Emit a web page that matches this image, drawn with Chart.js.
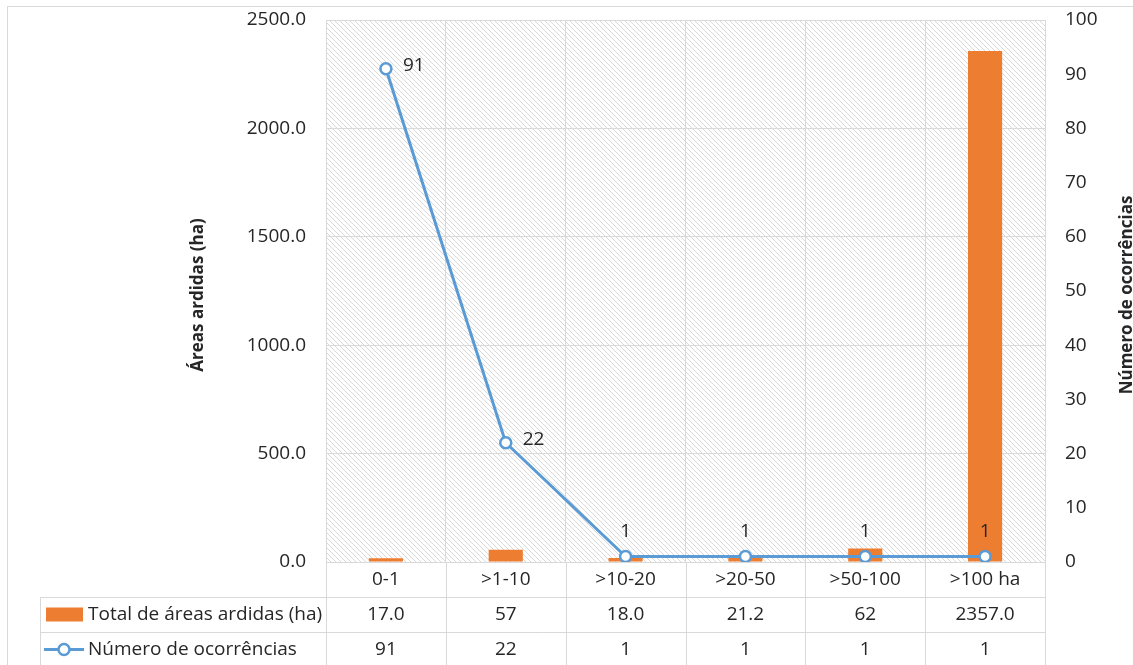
<!DOCTYPE html>
<html>
<head>
<meta charset="utf-8">
<script src="https://cdn.jsdelivr.net/npm/chart.js@4.4.1/dist/chart.umd.min.js"></script>
<style>
html,body{margin:0;padding:0;background:#fff;}
#wrap{width:1133px;height:665px;}
</style>
</head>
<body>
<div id="wrap"><canvas id="fogosChart" width="1133" height="665"></canvas></div>
<script>
// dados
const classes = ['0-1','>1-10','>10-20','>20-50','>50-100','>100 ha'];
const areaArdida = [17.0,57,18.0,21.2,62,2357.0];
const areaTexto = ['17.0','57','18.0','21.2','62','2357.0'];
const ocorrencias = [91,22,1,1,1,1];
const nomeArea = 'Total de áreas ardidas (ha)';
const nomeOcorr = 'Número de ocorrências';
const tituloEsq = 'Áreas ardidas (ha)';
const tituloDir = 'Número de ocorrências';

const laranja = '#ED7D31';
const azul = '#5B9BD5';
const cinza = '#d9d9d9';
const corTexto = '#262626';
const fonte = "'Open Sans', sans-serif";
const tam = 19;
const rowH = 35;

Chart.defaults.font.family = fonte;
Chart.defaults.font.size = tam;
Chart.defaults.color = corTexto;

// fundo tracejado + moldura
const fundo = {
  id:'fundo',
  beforeDraw(chart){
    const {ctx, chartArea:a} = chart;
    ctx.save();
    ctx.strokeStyle = cinza;
    ctx.lineWidth = 1;
    ctx.strokeRect(7.5, 6.5, chart.width, chart.height);
    ctx.beginPath();
    ctx.rect(a.left, a.top, a.right-a.left, a.bottom-a.top);
    ctx.clip();
    ctx.strokeStyle = '#d8d8d8';
    const h = a.bottom - a.top;
    ctx.beginPath();
    for (let k = -h; k < a.right - a.left; k += 5) {
      ctx.moveTo(a.left + k, a.top);
      ctx.lineTo(a.left + k + h, a.bottom);
    }
    ctx.stroke();
    ctx.restore();
  }
};

// tabela de dados, titulos dos eixos, rotulos
const tabela = {
  id:'tabela',
  afterDraw(chart){
    const {ctx, chartArea:a, scales} = chart;
    const x = scales.x;
    const n = classes.length;
    const w = (a.right - a.left) / n;
    const leftT = 40;
    ctx.save();
    ctx.strokeStyle = cinza;
    ctx.lineWidth = 1;
    ctx.beginPath();
    for (let r = 1; r <= 2; r++) {
      const y = Math.round(a.bottom + r*rowH) + 0.5;
      ctx.moveTo(leftT, y); ctx.lineTo(a.right, y);
    }
    for (let i = 0; i <= n; i++) {
      const xx = Math.round(a.left + i*w) + 0.5;
      ctx.moveTo(xx, a.bottom); ctx.lineTo(xx, chart.height);
    }
    ctx.moveTo(leftT + 0.5, a.bottom + rowH); ctx.lineTo(leftT + 0.5, chart.height);
    ctx.stroke();

    ctx.fillStyle = corTexto;
    ctx.font = tam + 'px ' + fonte;
    ctx.textAlign = 'center';
    ctx.textBaseline = 'middle';
    const y2 = a.bottom + rowH*1.5;
    const y3 = a.bottom + rowH*2.5;
    for (let i = 0; i < n; i++) {
      const cx = x.getPixelForValue(i);
      ctx.fillText(areaTexto[i], cx, y2);
      ctx.fillText(String(ocorrencias[i]), cx, y3);
    }
    // legenda na tabela
    ctx.textAlign = 'left';
    ctx.fillStyle = laranja;
    ctx.fillRect(46, y2 - 7, 37, 14);
    ctx.fillStyle = corTexto;
    ctx.fillText(nomeArea, 88, y2);
    ctx.strokeStyle = azul;
    ctx.lineWidth = 3;
    ctx.beginPath(); ctx.moveTo(44, y3); ctx.lineTo(84, y3); ctx.stroke();
    ctx.fillStyle = '#fff';
    ctx.lineWidth = 2.5;
    ctx.beginPath(); ctx.arc(64, y3, 5.5, 0, Math.PI*2); ctx.fill(); ctx.stroke();
    ctx.fillStyle = corTexto;
    ctx.fillText(nomeOcorr, 88, y3);

    // titulos dos eixos
    ctx.font = 'bold 17px ' + fonte;
    ctx.textAlign = 'center';
    const cy = (a.top + a.bottom) / 2 + 4;
    [[198, tituloEsq],[1127, tituloDir]].forEach(([tx, t]) => {
      ctx.save();
      ctx.translate(tx, cy);
      ctx.rotate(-Math.PI/2);
      ctx.fillText(t, 0, 0);
      ctx.restore();
    });
    ctx.restore();
  },
  afterDatasetsDraw(chart){
    const {ctx} = chart;
    const meta = chart.getDatasetMeta(0);
    ctx.save();
    ctx.fillStyle = corTexto;
    ctx.font = tam + 'px ' + fonte;
    ctx.textBaseline = 'middle';
    meta.data.forEach((p, i) => {
      const v = ocorrencias[i];
      if (v >= 10) {
        ctx.textAlign = 'left';
        ctx.fillText(String(v), p.x + 17, p.y - 3);
      } else {
        ctx.textAlign = 'center';
        ctx.fillText(String(v), p.x, p.y - 25);
      }
    });
    ctx.restore();
  }
};

function semPadding(s, largura){
  s.width = largura;
  s.paddingTop = 0;
  s.paddingBottom = 0;
}

new Chart(document.getElementById('fogosChart'), {
  type:'bar',
  data:{
    labels: classes,
    datasets:[
      {
        type:'line',
        label: nomeOcorr,
        data: ocorrencias,
        yAxisID:'y1',
        borderColor: azul,
        borderWidth: 3,
        pointRadius: 5.5,
        pointBorderWidth: 2.5,
        pointBackgroundColor: '#fff',
        pointBorderColor: azul,
        tension: 0,
        order: 0
      },
      {
        type:'bar',
        label: nomeArea,
        data: areaArdida,
        yAxisID:'y',
        backgroundColor: laranja,
        categoryPercentage: 1,
        barPercentage: 0.285,
        order: 1
      }
    ]
  },
  options:{
    responsive:false,
    animation:false,
    layout:{ padding:{ top:20, left:0, right:0, bottom:0 } },
    plugins:{ legend:{ display:false }, tooltip:{ enabled:false } },
    scales:{
      x:{
        grid:{ color: cinza, drawTicks:false, offset:true },
        border:{ color: cinza },
        ticks:{ padding:6, color: corTexto },
        afterFit(s){ s.height = 103; s.paddingLeft = 0; s.paddingRight = 0; }
      },
      y:{
        position:'left',
        min:0, max:2500,
        grid:{ color: cinza, drawTicks:false },
        border:{ display:false },
        ticks:{ stepSize:500, padding:20, color: corTexto, callback:v => v.toFixed(1) },
        afterFit(s){ semPadding(s, 326); }
      },
      y1:{
        position:'right',
        min:0, max:100,
        grid:{ display:false, drawTicks:false },
        border:{ display:false },
        ticks:{ stepSize:10, padding:20, color: corTexto },
        afterFit(s){ semPadding(s, 88); }
      }
    }
  },
  plugins:[fundo, tabela]
});
</script>
</body>
</html>
